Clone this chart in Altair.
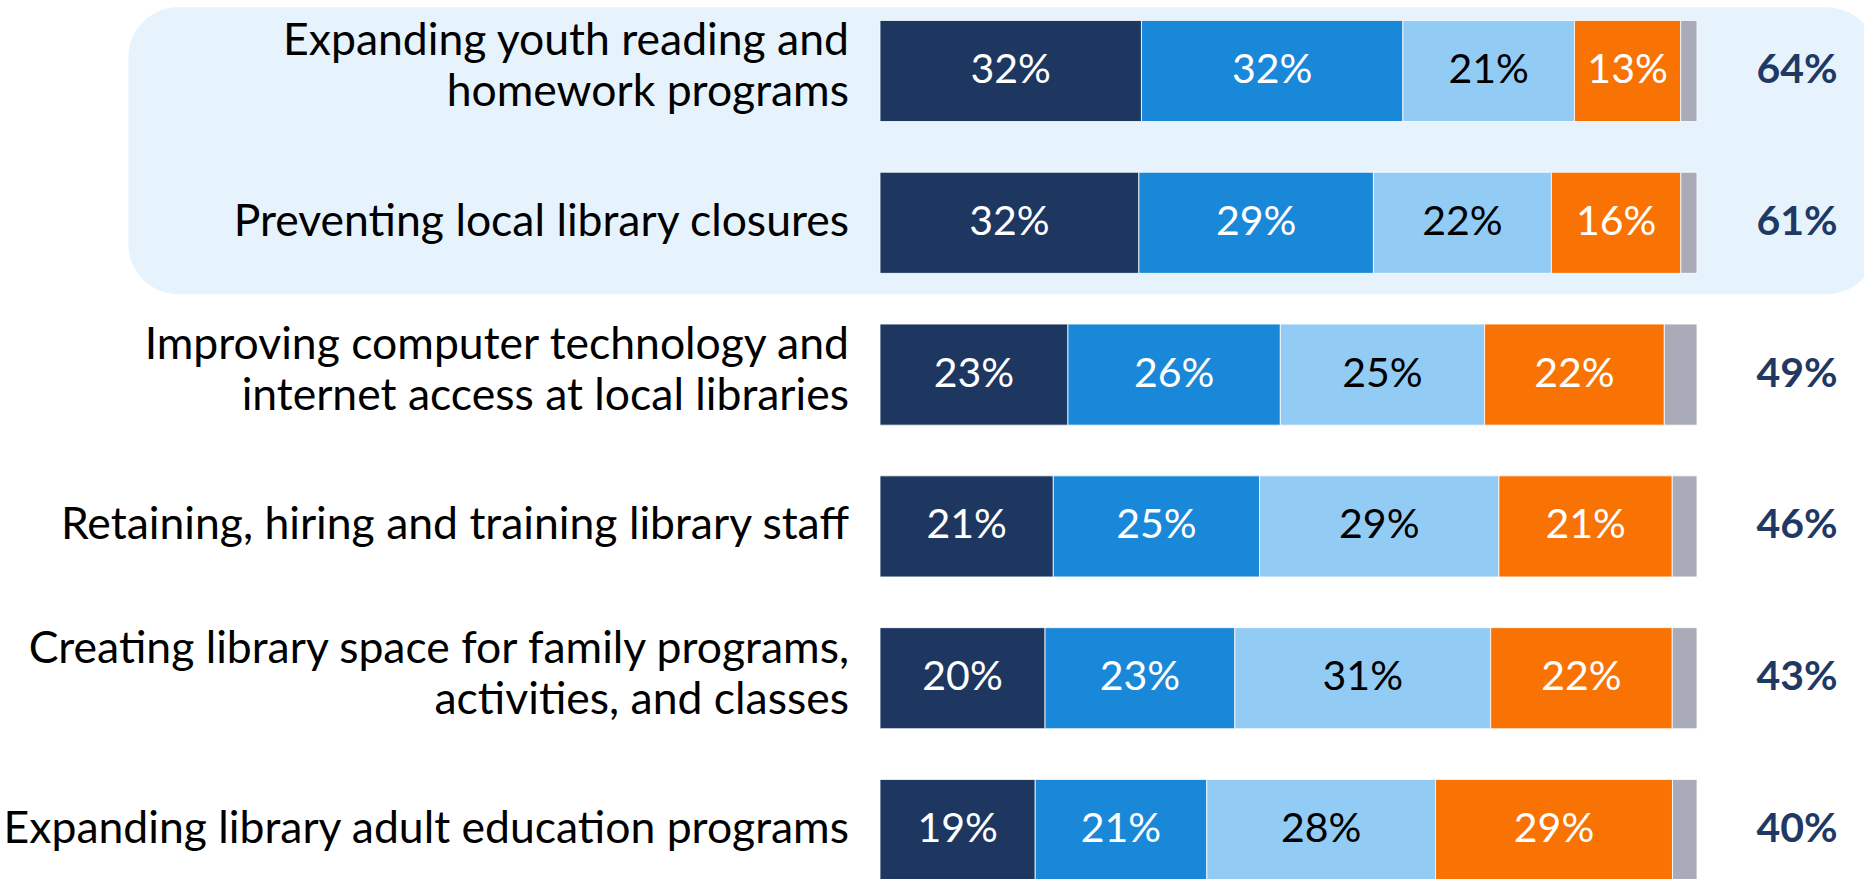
import altair as alt
import pandas as pd

# ---- data ----
categories = [
    "Expanding youth reading and\nhomework programs",
    "Preventing local library closures",
    "Improving computer technology and\ninternet access at local libraries",
    "Retaining, hiring and training library staff",
    "Creating library space for family programs,\nactivities, and classes",
    "Expanding library adult education programs",
]
series_names = ["Extremely important", "Very important", "Somewhat important",
                "Not important", "Don't know"]
extremely = [32, 32, 23, 21, 20, 19]
very = [32, 29, 26, 25, 23, 21]
somewhat = [21, 22, 25, 29, 31, 28]
not_important = [13, 16, 22, 21, 22, 29]
dont_know = [2, 2, 4, 3, 3, 3]          # unlabeled grey remainder
totals = [64, 61, 49, 46, 43, 40]
highlight_rows = [0, 1]

colors = ["#1E3761", "#1A88D8", "#92CBF3", "#F87304", "#A9ABB8"]
label_colors = ["white", "white", "black", "white", "white"]

FONT = "Lato"
LINE_STEP = 0.336   # line spacing of wrapped labels, in row units

# ---- build tables ----
rows = []
for i, cat in enumerate(categories):
    vals = [extremely[i], very[i], somewhat[i], not_important[i], dont_know[i]]
    tot = sum(vals)
    start = 0.0
    for k, v in enumerate(vals):
        w = v / tot * 100
        rows.append({
            "row": i, "series": series_names[k],
            "start": start, "end": start + w, "mid": start + w / 2,
            "label": f"{v}%" if k < 4 else "",
            "lcolor": label_colors[k],
            "y0": i - 0.333, "y1": i + 0.333,
        })
        start += w
seg = pd.DataFrame(rows)

line_rows = []
for i, cat in enumerate(categories):
    parts = cat.split("\n")
    n = len(parts)
    for j, p in enumerate(parts):
        line_rows.append({"ypos": i - 0.02 * (n - 1) + (j - (n - 1) / 2) * LINE_STEP,
                          "text": p, "zero": 0})
lines_df = pd.DataFrame(line_rows)

tot_df = pd.DataFrame({"row": list(range(len(categories))),
                       "hundred": [100] * len(categories),
                       "total": [f"{t}%" for t in totals]})

box_df = pd.DataFrame([{"x0": -92, "x1": 122,
                        "y0": highlight_rows[0] - 0.42, "y1": highlight_rows[-1] + 0.47}])

xscale = alt.Scale(domain=[-107.71, 120.44], nice=False, zero=False)
yscale = alt.Scale(domain=[-0.4677, 5.3228], nice=False, zero=False, reverse=True)

box = alt.Chart(box_df).mark_rect(cornerRadius=50, color="#E6F3FC").encode(
    x=alt.X("x0:Q", scale=xscale, axis=None),
    x2="x1:Q",
    y=alt.Y("y0:Q", scale=yscale, axis=None),
    y2="y1:Q",
)

bars = alt.Chart(seg).mark_rect(stroke="white", strokeWidth=0.8).encode(
    x=alt.X("start:Q", scale=xscale, axis=None),
    x2="end:Q",
    y=alt.Y("y0:Q", scale=yscale, axis=None),
    y2="y1:Q",
    color=alt.Color("series:N", scale=alt.Scale(domain=series_names, range=colors), legend=None),
)

seg_text = alt.Chart(seg).mark_text(font=FONT, fontSize=41, baseline="middle", align="center").encode(
    x=alt.X("mid:Q", scale=xscale, axis=None),
    y=alt.Y("row:Q", scale=yscale, axis=None),
    text="label:N",
    color=alt.Color("lcolor:N", scale=None),
)

cat_text = alt.Chart(lines_df).mark_text(font=FONT, fontSize=44.5, align="right", baseline="middle",
                                         dx=-31, color="black").encode(
    x=alt.X("zero:Q", scale=xscale, axis=None),
    y=alt.Y("ypos:Q", scale=yscale, axis=None),
    text="text:N",
)

tot_text = alt.Chart(tot_df).mark_text(font=FONT, fontSize=41, fontWeight="bold", align="center",
                                       baseline="middle", dx=100, color="#1F3864").encode(
    x=alt.X("hundred:Q", scale=xscale, axis=None),
    y=alt.Y("row:Q", scale=yscale, axis=None),
    text="total:N",
)

chart = alt.layer(box, bars, seg_text, cat_text, tot_text).properties(
    width=1864, height=879,
    autosize=alt.AutoSizeParams(type="none"),
    padding=0, background="white",
).configure_view(stroke=None)

chart.save("out.html", embed_options={"renderer": "svg", "actions": False})
